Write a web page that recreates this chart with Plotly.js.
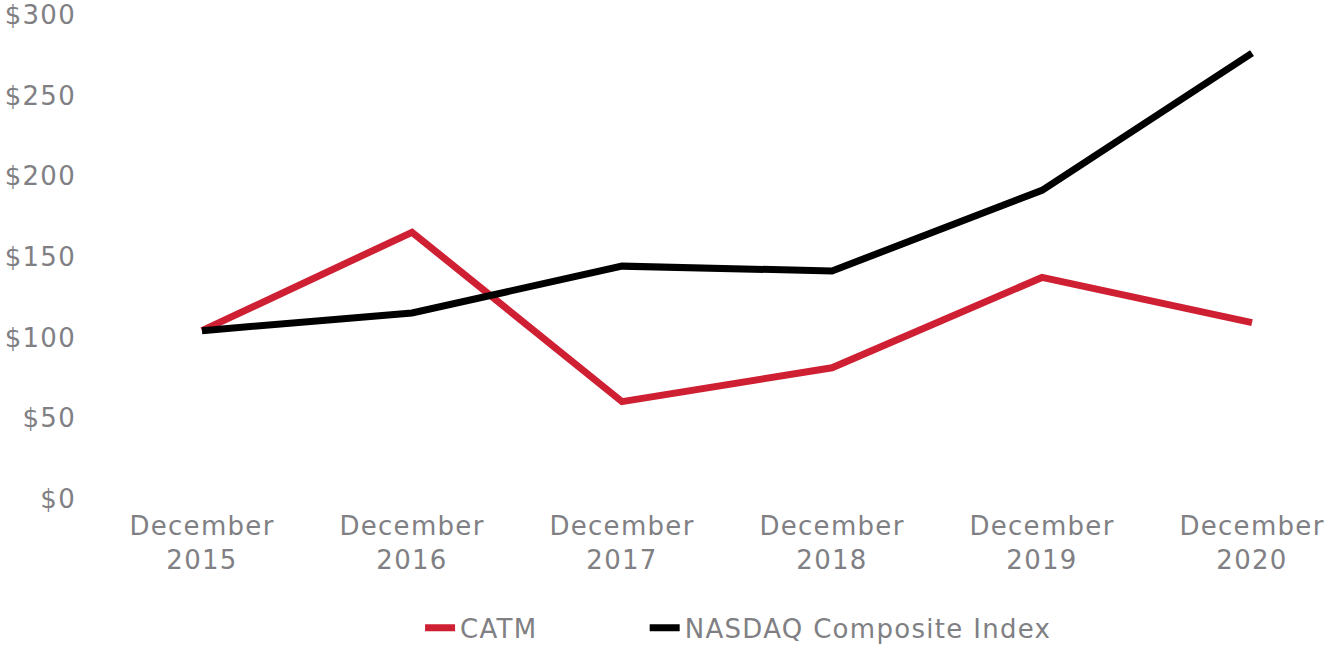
<!DOCTYPE html>
<html>
<head>
<meta charset="utf-8">
<script src="https://cdn.plot.ly/plotly-3.0.1.min.js"></script>
<style>
html,body{margin:0;padding:0;background:#fff;}
#chart{width:1327px;height:651px;}
text{letter-spacing:1.3px;}
</style>
</head>
<body>
<div id="chart"></div>
<script>
const categories = ["December<br>2015", "December<br>2016", "December<br>2017", "December<br>2018", "December<br>2019", "December<br>2020"];
const catm = [100, 161, 56, 77, 133, 105];
const nasdaq = [100, 111, 140, 137, 187, 272];
const yTickVals = [0, 50, 100, 150, 200, 250, 300];
const yTickText = ["$0", "$50", "$100", "$150", "$200", "$250", "$300"];

const gray = "#7f7f84";
const fontFamily = "DejaVu Sans, sans-serif";
const fs = 26;

const traces = [
  {x: categories, y: catm, name: "CATM", type: "scatter", mode: "lines",
   line: {color: "#cf1f33", width: 7}, cliponaxis: false, legend: "legend"},
  {x: categories, y: nasdaq, name: "NASDAQ Composite Index", type: "scatter", mode: "lines",
   line: {color: "#000000", width: 7}, cliponaxis: false, legend: "legend2"}
];

const legendBase = {orientation: "h", yanchor: "top", xanchor: "left", y: -0.232,
  font: {family: fontFamily, size: fs, color: gray}, itemwidth: 30, bgcolor: "rgba(0,0,0,0)"};

const layout = {
  width: 1327, height: 651,
  margin: {l: 139, r: 12, t: 8, b: 159, autoexpand: false},
  paper_bgcolor: "#ffffff", plot_bgcolor: "#ffffff",
  font: {family: fontFamily, size: fs, color: gray},
  showlegend: true,
  legend: Object.assign({}, legendBase, {x: 0.239}),
  legend2: Object.assign({}, legendBase, {x: 0.430}),
  xaxis: {type: "category", range: [-0.3, 5.3], showgrid: false, zeroline: false,
          showline: false, ticks: "", ticklabelstandoff: 16,
          tickfont: {family: fontFamily, size: fs, color: gray}},
  yaxis: {range: [0, 300], tickvals: yTickVals, ticktext: yTickText, showgrid: false,
          zeroline: false, showline: false, ticks: "", ticklabelstandoff: 62, ticklabelshift: 7,
          tickfont: {family: fontFamily, size: fs, color: gray}}
};

Plotly.newPlot("chart", traces, layout, {displayModeBar: false, staticPlot: true});
</script>
</body>
</html>
